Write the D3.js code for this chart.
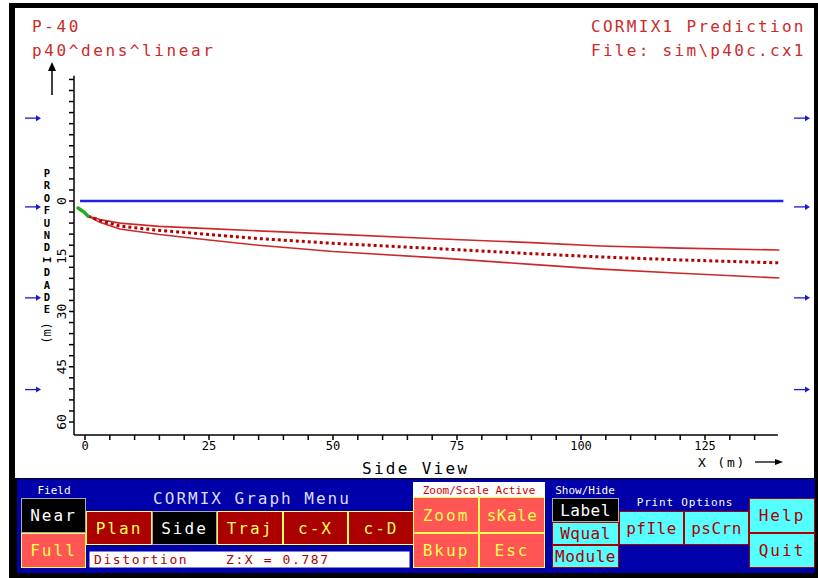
<!DOCTYPE html>
<html>
<head>
<meta charset="utf-8">
<script src="https://cdn.jsdelivr.net/npm/d3@7/dist/d3.min.js"></script>
<style>
  html, body { margin: 0; padding: 0; background: #ffffff; }
  svg { display: block; }
  text { font-family: "DejaVu Sans Mono", "Liberation Mono", monospace; }
</style>
</head>
<body>
<svg id="chart" width="818" height="578"></svg>
<script>
// ---- Plume geometry (metres): distance along X and depth below surface ----
const nearFieldX = [-1.4, -0.2, 0.6];
const nearFieldZ = [1.9, 3.0, 4.1];

const plumeX      = [0.6, 3, 7, 15, 25, 35, 50, 72, 90, 104, 120, 140];
const centerZ     = [4.1, 5.3, 6.8, 8.0, 9.1, 10.2, 11.5, 13.0, 14.3, 15.2, 16.0, 16.8];
const upperZ      = [4.1, 5.0, 6.0, 6.9, 7.5, 8.1, 9.0, 10.3, 11.3, 12.2, 12.8, 13.3];
const lowerZ      = [4.1, 5.8, 7.6, 9.1, 10.6, 12.0, 13.7, 15.5, 17.2, 18.5, 19.6, 20.9];

const surfaceX    = [-1, 140.8];

// ---- Axis ticks ----
const xTickLabels = [0, 25, 50, 75, 100, 125];
const yTickLabels = [0, 15, 30, 45, 60];
const xDomainEnd = 139.7;
const yAxisTop = -34;
const yAxisBottom = 63.5;

// ---- Header / labels ----
const titleLeft  = ["P-40", "p40^dens^linear"];
const titleRight = ["CORMIX1 Prediction", "File: sim\\p40c.cx1"];
const yLetters   = "PROFUNDIDADE".split("");
const arrowRowsY = [-22.5, 1.6, 26.3, 51.2]; // depth levels of the side flow arrows

// ---- Menu ----
const menuButtons = [
  // [label, x0, y0, x1, y1, fill, text colour, border]
  ["Near",  21, 498, 86, 533, "#000000", "#ffffff", "#aaaaaa"],
  ["Full",  21, 533, 86, 568, "#ff5555", "#ffff55", "#ffff55"],
  ["Plan",  86, 511, 152, 545, "#aa0000", "#ffff55", "#ffff55"],
  ["Side", 152, 511, 217, 545, "#000000", "#ffffff", "#aaaaaa"],
  ["Traj", 217, 511, 283, 545, "#aa0000", "#ffff55", "#ffff55"],
  ["c-X",  283, 511, 348, 545, "#aa0000", "#ffff55", "#ffff55"],
  ["c-D",  348, 511, 414, 545, "#aa0000", "#ffff55", "#ffff55"],
  ["Zoom", 413, 497, 479, 533, "#ff5555", "#ffff55", "#ffff55"],
  ["sKale",479, 497, 545, 533, "#ff5555", "#ffff55", "#ffff55"],
  ["Bkup", 413, 533, 479, 568, "#ff5555", "#ffff55", "#ffff55"],
  ["Esc",  479, 533, 545, 568, "#ff5555", "#ffff55", "#ffff55"],
  ["Label",552, 498, 619, 522, "#000000", "#ffffff", "#aaaaaa"],
  ["Wqual",552, 522, 619, 545, "#55ffff", "#aa0000", "#aa0000"],
  ["Module",552,545, 619, 568, "#55ffff", "#aa0000", "#aa0000"],
  ["pfIle",619, 511, 684, 545, "#55ffff", "#aa0000", "#aa0000"],
  ["psCrn",684, 511, 749, 545, "#55ffff", "#aa0000", "#aa0000"],
  ["Help", 749, 498, 815, 533, "#55ffff", "#aa0000", "#aa0000"],
  ["Quit", 749, 533, 815, 568, "#55ffff", "#aa0000", "#aa0000"]
];

const svg = d3.select("#chart");

// Outer frame
svg.append("rect").attr("x", 9).attr("y", 3).attr("width", 809).attr("height", 575).attr("fill", "#000");
svg.append("rect").attr("x", 15).attr("y", 8).attr("width", 799).attr("height", 470).attr("fill", "#fff");

// Scales
const x = d3.scaleLinear().domain([0, 125]).range([85, 705]);
const y = d3.scaleLinear().domain([0, 60]).range([201, 422]);

const red = "#cc2a2a";

// Titles
const tl = svg.append("g").attr("fill", red).attr("font-size", 16).attr("letter-spacing", 2.6);
titleLeft.forEach((t, i) => tl.append("text").attr("x", 32).attr("y", 32 + i * 24).text(t));
titleRight.forEach((t, i) => tl.append("text").attr("x", 591).attr("y", 32 + i * 24).attr("letter-spacing", 2.3).text(t));

// Y axis
const yAxisLine = svg.append("g");
yAxisLine.append("line")
  .attr("x1", 74).attr("x2", 74)
  .attr("y1", y(yAxisTop)).attr("y2", y(yAxisBottom))
  .attr("stroke", "#000").attr("stroke-width", 1.5);
const yMinor = d3.range(-33, 61, 3);
yAxisLine.selectAll("line.tick").data(yMinor).join("line")
  .attr("class", "tick")
  .attr("x1", 69).attr("x2", 74)
  .attr("y1", d => y(d)).attr("y2", d => y(d))
  .attr("stroke", "#000").attr("stroke-width", 1.5);
yAxisLine.selectAll("text").data(yTickLabels).join("text")
  .attr("transform", d => `translate(66,${y(d)}) rotate(-90)`)
  .attr("text-anchor", "middle")
  .attr("font-size", 13)
  .attr("fill", "#000")
  .text(d => d);

// Arrow at the top of the depth axis
svg.append("line").attr("x1", 52).attr("x2", 52).attr("y1", 95).attr("y2", 64)
  .attr("stroke", "#000").attr("stroke-width", 1.5);
svg.append("path").attr("d", "M48,71 L52,62 L56,71 Z").attr("fill", "#000");

// Vertical axis title letters
const yl = svg.append("g").attr("font-size", 10.5).attr("font-weight", "bold").attr("fill", "#000")
  .attr("font-family", "DejaVu Sans");
yLetters.forEach((c, i) => {
  const cy = 177 + i * 12.4;
  if (c === "I") {
    yl.append("text").attr("transform", `translate(47,${cy - 4}) rotate(-90)`)
      .attr("text-anchor", "middle").attr("dy", "0.35em").text(c);
  } else {
    yl.append("text").attr("x", 47).attr("y", cy).attr("text-anchor", "middle").text(c);
  }
});
yl.append("text").attr("transform", "translate(51,333) rotate(-90)")
  .attr("text-anchor", "middle").attr("font-weight", "normal").attr("font-size", 12).text("(m)");

// X axis
const xa = svg.append("g");
xa.append("line").attr("x1", 74).attr("x2", x(xDomainEnd))
  .attr("y1", 435).attr("y2", 435).attr("stroke", "#000").attr("stroke-width", 1.5);
xa.selectAll("line.tick").data(d3.range(0, 140, 5)).join("line")
  .attr("class", "tick")
  .attr("x1", d => x(d)).attr("x2", d => x(d))
  .attr("y1", 435).attr("y2", 440)
  .attr("stroke", "#000").attr("stroke-width", 1.5);
xa.selectAll("text").data(xTickLabels).join("text")
  .attr("x", d => x(d)).attr("y", 450)
  .attr("text-anchor", "middle").attr("font-size", 12).attr("fill", "#000")
  .text(d => d);

svg.append("text").attr("x", 362).attr("y", 474).attr("font-size", 16).attr("letter-spacing", 2.3)
  .attr("fill", "#000").text("Side View");
svg.append("text").attr("x", 698).attr("y", 467).attr("font-size", 13).attr("letter-spacing", 1.8)
  .attr("fill", "#000").text("X (m)");
svg.append("line").attr("x1", 755).attr("x2", 778).attr("y1", 462).attr("y2", 462)
  .attr("stroke", "#000").attr("stroke-width", 1.3);
svg.append("path").attr("d", "M775,459 L783,462 L775,465 Z").attr("fill", "#000");

// Side flow arrows
const blue = "#1a1acc";
const arrows = svg.append("g");
arrowRowsY.forEach(d => {
  const yy = y(d);
  [[25, 41], [794, 810]].forEach(([a, b]) => {
    arrows.append("line").attr("x1", a).attr("x2", b - 3).attr("y1", yy).attr("y2", yy)
      .attr("stroke", blue).attr("stroke-width", 1.3);
    arrows.append("path").attr("d", `M${b - 5},${yy - 3} L${b},${yy} L${b - 5},${yy + 3} Z`).attr("fill", blue);
  });
});

// Water surface
svg.append("line")
  .attr("x1", x(surfaceX[0])).attr("x2", x(surfaceX[1]))
  .attr("y1", y(0)).attr("y2", y(0))
  .attr("stroke", "#2222dd").attr("stroke-width", 2.5);

// Plume boundaries and centreline
const line = d3.line().x(d => x(d[0])).y(d => y(d[1]));
const upperPts  = plumeX.map((v, i) => [v, upperZ[i]]);
const lowerPts  = plumeX.map((v, i) => [v, lowerZ[i]]);
const centerPts = plumeX.map((v, i) => [v, centerZ[i]]);

svg.append("path").datum(upperPts).attr("d", line)
  .attr("fill", "none").attr("stroke", red).attr("stroke-width", 1.6);
svg.append("path").datum(lowerPts).attr("d", line)
  .attr("fill", "none").attr("stroke", red).attr("stroke-width", 1.6);
svg.append("path").datum(centerPts).attr("d", line)
  .attr("fill", "none").attr("stroke", "#b40000").attr("stroke-width", 3)
  .attr("stroke-dasharray", "3,3");

// Near-field jet
svg.append("path").datum(nearFieldX.map((v, i) => [v, nearFieldZ[i]])).attr("d", line)
  .attr("fill", "none").attr("stroke", "#22aa22").attr("stroke-width", 3.5)
  .attr("stroke-linecap", "round");

// ---- Menu panel ----
const menu = svg.append("g");
menu.append("rect").attr("x", 17).attr("y", 479).attr("width", 798).attr("height", 94).attr("fill", "#0000aa");

menu.append("text").attr("x", 54).attr("y", 494).attr("text-anchor", "middle")
  .attr("font-size", 11).attr("fill", "#ffffff").text("Field");
menu.append("text").attr("x", 252).attr("y", 504).attr("text-anchor", "middle")
  .attr("font-size", 16).attr("letter-spacing", 2).attr("fill", "#ddddff").text("CORMIX Graph Menu");

// Zoom/Scale status box
menu.append("rect").attr("x", 413).attr("y", 482).attr("width", 132).attr("height", 15)
  .attr("fill", "#ffffff");
menu.append("text").attr("x", 479).attr("y", 494).attr("text-anchor", "middle")
  .attr("font-size", 11).attr("fill", "#cc0000").text("Zoom/Scale Active");

menu.append("text").attr("x", 585).attr("y", 494).attr("text-anchor", "middle")
  .attr("font-size", 11).attr("fill", "#ffffff").text("Show/Hide");
menu.append("text").attr("x", 685).attr("y", 506).attr("text-anchor", "middle")
  .attr("font-size", 11).attr("letter-spacing", 0.8).attr("fill", "#ffffff").text("Print Options");

// Distortion read-out
menu.append("rect").attr("x", 89).attr("y", 551).attr("width", 321).attr("height", 17)
  .attr("fill", "#ffffff").attr("stroke", "#0000aa");
menu.append("text").attr("x", 94).attr("y", 564).attr("font-size", 13).attr("letter-spacing", 1.6)
  .attr("fill", "#aa0000").attr("xml:space", "preserve").text("Distortion    Z:X = 0.787");

menuButtons.forEach(([label, x0, y0, x1, y1, fill, tc, bc]) => {
  menu.append("rect").attr("x", x0 + 0.5).attr("y", y0 + 0.5)
    .attr("width", x1 - x0 - 1).attr("height", y1 - y0 - 1)
    .attr("fill", fill).attr("stroke", bc).attr("stroke-width", 1);
  menu.append("text").attr("x", (x0 + x1) / 2).attr("y", (y0 + y1) / 2)
    .attr("dy", "0.36em").attr("text-anchor", "middle")
    .attr("font-size", 16).attr("letter-spacing", label.length > 4 ? 0.5 : 2)
    .attr("fill", tc).text(label);
});
</script>
</body>
</html>
